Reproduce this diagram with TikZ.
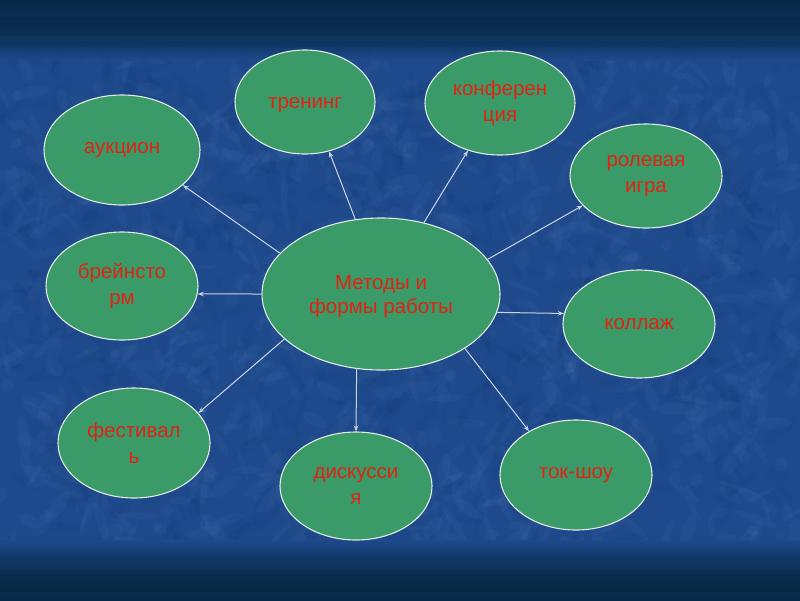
\documentclass[tikz,border=0pt]{standalone}
\usepackage{fontspec}
\setmainfont{Liberation Sans}
\usetikzlibrary{shapes.geometric,arrows.meta}
\definecolor{bgblue}{RGB}{30,74,140}
\definecolor{bglight}{RGB}{95,140,205}
\definecolor{bgdark}{RGB}{12,45,100}
\definecolor{navytop}{RGB}{8,40,72}
\definecolor{navymid}{RGB}{16,55,100}
\definecolor{navystripe}{RGB}{5,32,50}
\definecolor{ovalgreen}{RGB}{58,154,104}
\definecolor{ovalline}{RGB}{225,235,225}
\definecolor{txtred}{RGB}{225,35,20}
\definecolor{arrowgray}{RGB}{205,212,225}
\tikzset{
  oval/.style={ellipse, fill=ovalgreen, draw=ovalline, line width=1.1pt,
    inner sep=0pt, align=center, text=txtred,
    font=\fontsize{20.5}{26}\selectfont},
  link/.style={draw=arrowgray, line width=1pt, -{Stealth[length=6pt,width=4.5pt]}}
}
\begin{document}
\begin{tikzpicture}[x=1pt,y=-1pt]
\useasboundingbox (0,0) rectangle (800,600);
% background
\fill[bgblue] (0,0) rectangle (800,600);
\begin{scope}
\clip (0,40) rectangle (800,560);
\pgfmathsetseed{11}
\foreach \i in {1,...,900}{
  \pgfmathsetmacro\xx{rnd*800}
  \pgfmathsetmacro\yy{40+rnd*520}
  \pgfmathsetmacro\aa{rnd*180}
  \pgfmathsetmacro\rx{5+rnd*18}
  \pgfmathsetmacro\ry{2+rnd*5}
  \fill[bglight,opacity=0.07,rotate around={\aa:(\xx,\yy)}] (\xx,\yy) ellipse [x radius=\rx pt, y radius=\ry pt];
}
\foreach \i in {1,...,600}{
  \pgfmathsetmacro\xx{rnd*800}
  \pgfmathsetmacro\yy{40+rnd*520}
  \pgfmathsetmacro\aa{rnd*180}
  \pgfmathsetmacro\rx{5+rnd*18}
  \pgfmathsetmacro\ry{2+rnd*5}
  \fill[bgdark,opacity=0.08,rotate around={\aa:(\xx,\yy)}] (\xx,\yy) ellipse [x radius=\rx pt, y radius=\ry pt];
}
\end{scope}
% top band
\shade[top color=navytop, bottom color=navymid] (0,0) rectangle (800,46);
\fill[navystripe,opacity=0.25] (0,17) rectangle (800,36);
\shade[top color=navymid, bottom color=bgblue, opacity=0.85] (0,46) rectangle (800,60);
% bottom band
\shade[top color=bgblue, bottom color=navymid] (0,540) rectangle (800,558);
\shade[top color=navymid, bottom color=navytop] (0,558) rectangle (800,600);
\fill[navystripe,opacity=0.25] (0,570) rectangle (800,592);

% nodes
\node[oval, minimum width=238pt, minimum height=152pt] (c) at (381,294) {\raisebox{-3pt}[\height][\depth]{\shortstack[c]{Методы и\\[2pt]формы работы}}};
\node[oval, minimum width=140pt, minimum height=104pt] (tr) at (305,102) {\raisebox{-3pt}[\height][\depth]{тренинг}};
\node[oval, minimum width=150pt, minimum height=104pt] (kf) at (500,103) {конферен\\ция};
\node[oval, minimum width=156pt, minimum height=110pt] (au) at (122,150) {аукцион};
\node[oval, minimum width=152pt, minimum height=104pt] (rl) at (646,176) {ролевая\\игра};
\node[oval, minimum width=152pt, minimum height=108pt] (br) at (122,286) {брейнсто\\рм};
\node[oval, minimum width=152pt, minimum height=108pt] (kl) at (639,324) {коллаж};
\node[oval, minimum width=152pt, minimum height=110pt] (fs) at (134,443) {фестивал\\ь};
\node[oval, minimum width=152pt, minimum height=108pt] (ds) at (356,486) {дискусси\\я};
\node[oval, minimum width=152pt, minimum height=110pt] (ts) at (576,475) {ток-шоу};

% connectors
\draw[link] (c.158) -- (au.330);
\draw[link] (c.109) -- (tr.296);
\draw[link] (c.59) -- (kf.236);
\draw[link] (c.18) -- (rl.205);
\draw[link] (c.351) -- (kl.172);
\draw[link] (c.327) -- (ts.137);
\draw[link] (c.252) -- (ds.90);
\draw[link] (c.205) -- (fs.25);
\draw[link] (c.180) -- (br.354);
\end{tikzpicture}
\end{document}
